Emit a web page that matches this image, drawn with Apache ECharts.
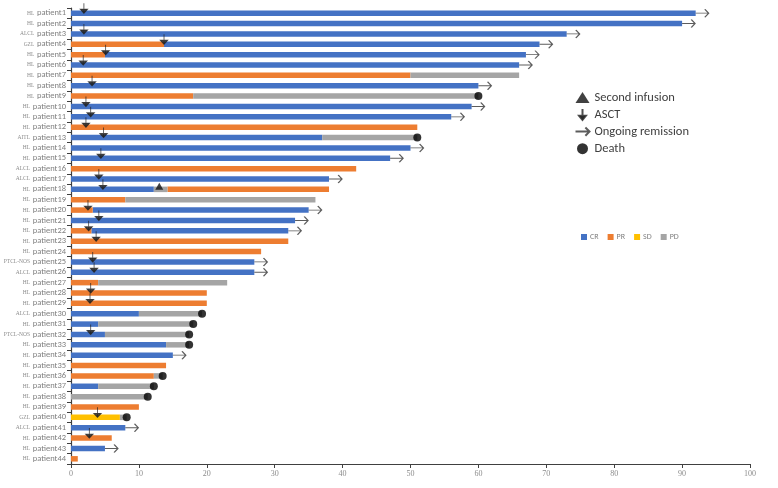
<!DOCTYPE html>
<html>
<head>
<meta charset="utf-8">
<script src="https://cdn.jsdelivr.net/npm/echarts@6/dist/echarts.min.js"></script>
<style>
  html, body { margin: 0; padding: 0; background: #fff; }
  #chart { width: 778px; height: 488px; }
</style>
</head>
<body>
<div id="chart"></div>
<script>
// patient order, top to bottom
const patients = [];
for (let i = 1; i <= 44; i++) patients.push('patient' + i);

const diseases = [
  'HL', 'HL', 'ALCL', 'GZL', 'HL', 'HL', 'HL', 'HL', 'HL', 'HL', 'HL',
  'HL', 'AITL', 'HL', 'HL', 'ALCL', 'ALCL', 'HL', 'HL', 'HL', 'HL', 'HL',
  'HL', 'HL', 'PTCL-NOS', 'ALCL', 'HL', 'HL', 'HL', 'ALCL', 'HL', 'PTCL-NOS',
  'HL', 'HL', 'HL', 'HL', 'HL', 'HL', 'HL', 'GZL', 'ALCL', 'HL', 'HL', 'HL'
];

// response phases per patient: [status, end of phase]
const phases = [
  [['CR', 92]],
  [['CR', 90]],
  [['CR', 73]],
  [['PR', 13.7], ['CR', 69]],
  [['PR', 5], ['CR', 67]],
  [['CR', 66]],
  [['PR', 50], ['PD', 66]],
  [['CR', 60]],
  [['PR', 18], ['PD', 60]],
  [['CR', 59]],
  [['CR', 56]],
  [['PR', 51]],
  [['CR', 37], ['PD', 51]],
  [['CR', 50]],
  [['CR', 47]],
  [['PR', 42]],
  [['CR', 38]],
  [['CR', 12.2], ['PD', 14.2], ['PR', 38]],
  [['PR', 8], ['PD', 36]],
  [['PR', 3.2], ['CR', 35]],
  [['CR', 33]],
  [['PR', 3], ['CR', 32]],
  [['PR', 32]],
  [['PR', 28]],
  [['CR', 27]],
  [['CR', 27]],
  [['PR', 4], ['PD', 23]],
  [['PR', 20]],
  [['PR', 20]],
  [['CR', 10], ['PD', 19.3]],
  [['CR', 4], ['PD', 18]],
  [['CR', 5], ['PD', 17.4]],
  [['CR', 14], ['PD', 17.4]],
  [['CR', 15]],
  [['PR', 14]],
  [['PR', 12.2], ['PD', 13.5]],
  [['CR', 4], ['PD', 12.2]],
  [['PD', 11.3]],
  [['PR', 10]],
  [['SD', 7.2], ['PD', 8.2]],
  [['CR', 8]],
  [['PR', 6]],
  [['CR', 5]],
  [['PR', 1]]
];

// [patient number, time]
const asct = [
  [1, 1.9], [3, 1.9], [4, 13.7], [5, 5.1], [6, 1.8], [8, 3.1], [10, 2.2],
  [11, 2.9], [12, 2.2], [13, 4.8], [15, 4.4], [17, 4.1], [18, 4.7], [20, 2.5],
  [21, 4.1], [22, 2.6], [23, 3.7], [25, 3.2], [26, 3.4], [28, 2.9], [29, 2.8],
  [32, 2.9], [40, 3.9], [42, 2.7]
];
const secondInfusion = [[18, 13]];
const ongoing = [1, 2, 3, 4, 5, 6, 8, 10, 11, 14, 15, 17, 20, 21, 22, 25, 26, 34, 41, 43];
const death = [9, 13, 30, 31, 32, 33, 36, 37, 38, 40];

const statusNames = ['CR', 'PR', 'SD', 'PD'];
const statusColors = { CR: '#4472C4', PR: '#ED7D31', SD: '#FFC000', PD: '#A5A5A5' };

const chart = echarts.init(document.getElementById('chart'));

function lastEnd(p) {
  const ph = phases[p - 1];
  return ph[ph.length - 1][1];
}

// rect for each phase, through the axes
function renderPhase(params, api) {
  const s = api.coord([api.value(0), api.value(2)]);
  const e = api.coord([api.value(1), api.value(2)]);
  const h = 5.5;
  return {
    type: 'rect',
    shape: { x: s[0], y: s[1] - h / 2, width: e[0] - s[0], height: h },
    style: api.style()
  };
}

const phaseSeries = statusNames.map(st => {
  const data = [];
  phases.forEach((ph, i) => {
    let start = 0;
    ph.forEach(([s, end]) => {
      if (s === st) data.push([start, end, i]);
      start = end;
    });
  });
  return {
    name: st,
    type: 'custom',
    renderItem: renderPhase,
    itemStyle: { color: statusColors[st] },
    encode: { x: [0, 1], y: 2 },
    data: data,
    z: 2
  };
});

const arrowDown = 'path://M5,0 L5,13 M1,8 L5,13 L9,8 Z';
const arrowRight = 'path://M0,5 L17,5 M12,0 L17,5 L12,10';

const option = {
  animation: false,
  textStyle: { fontFamily: 'Calibri, Carlito, "Liberation Sans", sans-serif' },
  grid: { left: 71, right: 28, top: 8, bottom: 24, containLabel: false, outerBoundsMode: 'none' },
  legend: [
    {
      data: statusNames,
      left: 576,
      top: 228,
      itemWidth: 6,
      itemHeight: 6,
      itemGap: 9,
      icon: 'rect',
      textStyle: { fontSize: 8, color: '#7f7f7f', padding: [0, 0, 0, -2] }
    },
    {
      data: ['Second infusion', 'ASCT', 'Ongoing remission', 'Death'],
      orient: 'vertical',
      left: 568,
      top: 86,
      itemWidth: 14,
      itemHeight: 11,
      itemGap: 4,
      textStyle: { fontSize: 12.5, color: '#404040' }
    }
  ],
  xAxis: {
    type: 'value',
    min: 0,
    max: 100,
    interval: 10,
    splitLine: { show: false },
    axisLine: { show: true, lineStyle: { color: '#404040', width: 1.2 } },
    axisTick: { show: true, length: 4, lineStyle: { color: '#404040' } },
    axisLabel: { fontSize: 8, color: '#8c8c8c', margin: 6, fontFamily: '"Liberation Serif", serif' }
  },
  yAxis: {
    type: 'category',
    inverse: true,
    data: patients,
    axisLine: { show: true, lineStyle: { color: '#404040', width: 1.2 } },
    axisTick: { show: true, length: 4, interval: 0, lineStyle: { color: '#404040' } },
    axisLabel: {
      interval: 0,
      margin: 5,
      formatter: (v, i) => '{a|' + diseases[i] + '} {b|' + v + '}',
      rich: {
        a: { fontSize: 5.5, color: '#8c8c8c', fontFamily: '"Liberation Serif", serif' },
        b: { fontSize: 8.5, color: '#7f7f7f' }
      }
    }
  },
  series: phaseSeries.concat([
    {
      name: 'Second infusion',
      type: 'scatter',
      symbol: 'triangle',
      symbolSize: [8, 7],
      symbolOffset: [0, -3],
      itemStyle: { color: '#111' },
      data: secondInfusion.map(([p, t]) => [t, p - 1]),
      z: 5
    },
    {
      name: 'ASCT',
      type: 'scatter',
      symbol: arrowDown,
      symbolSize: [7, 10],
      symbolOffset: [0, -5],
      itemStyle: { color: '#222', borderColor: '#222', borderWidth: 1 },
      data: asct.map(([p, t]) => [t, p - 1]),
      z: 5
    },
    {
      name: 'Ongoing remission',
      type: 'scatter',
      symbol: arrowRight,
      symbolSize: [13, 8],
      symbolOffset: [6.5, 0],
      itemStyle: { color: 'none', borderColor: '#333', borderWidth: 1.1 },
      data: ongoing.map(p => [lastEnd(p), p - 1]),
      z: 5
    },
    {
      name: 'Death',
      type: 'scatter',
      symbol: 'circle',
      symbolSize: 8,
      itemStyle: { color: '#000' },
      data: death.map(p => [lastEnd(p), p - 1]),
      z: 5
    }
  ])
};

chart.setOption(option);
</script>
</body>
</html>
